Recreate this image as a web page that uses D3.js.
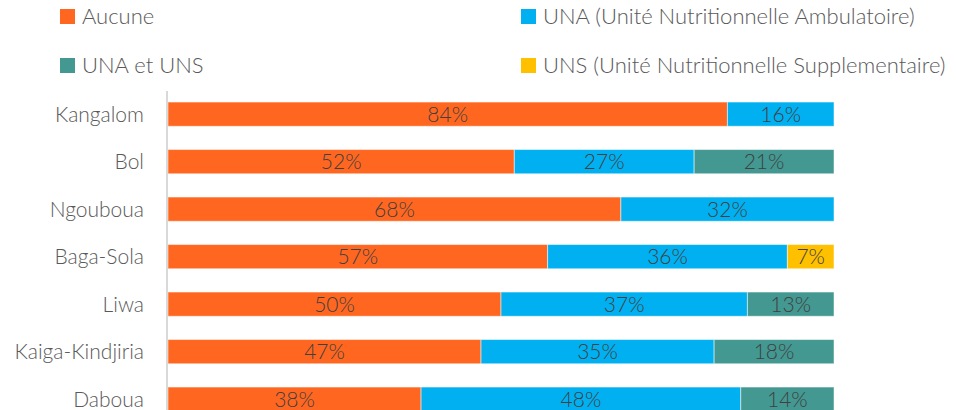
<!DOCTYPE html>
<html>
<head>
<meta charset="utf-8">
<script src="https://cdn.jsdelivr.net/npm/d3@7"></script>
<style>
  body { margin: 0; background: #fff; }
  svg text { font-family: Lato, "Open Sans", sans-serif; font-weight: 300; }
</style>
</head>
<body>
<svg id="chart"></svg>
<script>
// Chart data
const sites = ["Kangalom", "Bol", "Ngouboua", "Baga-Sola", "Liwa", "Kaiga-Kindjiria", "Daboua"];
const seriesNames = ["Aucune", "UNA (Unité Nutritionnelle Ambulatoire)", "UNA et UNS", "UNS (Unité Nutritionnelle Supplementaire)"];
const aucune = [84, 52, 68, 57, 50, 47, 38];
const una = [16, 27, 32, 36, 37, 35, 48];
const unaUns = [0, 21, 0, 0, 13, 18, 14];
const uns = [0, 0, 0, 7, 0, 0, 0];
const colors = ["#FF6720", "#00B0F0", "#439891", "#FFC000"];

// Size of chart svg
var width = 956;
var height = 410;

var svg = d3.select('#chart')
    .attr("width", width)
    .attr("height", height);

var rows = sites.map((s, i) => ({site: s, "0": aucune[i], "1": una[i], "2": unaUns[i], "3": uns[i]}));
var stack = d3.stack().keys(["0", "1", "2", "3"])(rows);

var x = d3.scaleLinear().domain([0, 100]).range([168, 834]);
var y = d3.scaleBand().domain(sites).range([90.4, 422.9])
    .paddingInner(0.49).paddingOuter(0.245);

// bars
var layers = svg.selectAll("g.layer").data(stack).enter().append("g")
    .attr("class", "layer")
    .attr("fill", (d, i) => colors[i]);

layers.selectAll("rect").data(d => d.filter(p => p[1] - p[0] > 0)).enter().append("rect")
    .attr("x", d => x(d[0]))
    .attr("y", d => y(d.data.site))
    .attr("width", d => x(d[1]) - x(d[0]))
    .attr("height", y.bandwidth())
    .attr("stroke", "rgba(255,255,255,0.5)")
    .attr("stroke-width", 1);

layers.selectAll("text").data(d => d.filter(p => p[1] - p[0] > 0)).enter().append("text")
    .attr("x", d => (x(d[0]) + x(d[1])) / 2)
    .attr("y", d => y(d.data.site) + y.bandwidth() / 2)
    .attr("dy", "0.36em")
    .attr("text-anchor", "middle")
    .attr("fill", "#404040")
    .style("font-size", "21px")
    .text(d => (d[1] - d[0]) + "%");

// category axis
var yAxis = svg.append("g")
    .attr("transform", "translate(167,0)")
    .call(d3.axisLeft(y).tickSize(0).tickPadding(23));
yAxis.select(".domain").remove();
yAxis.selectAll("text")
    .attr("fill", "#595959")
    .style("font-size", "21px")
    .attr("dy", "0.36em");

svg.append("line")
    .attr("x1", 167).attr("x2", 167)
    .attr("y1", 91).attr("y2", height)
    .attr("stroke", "#D9D9D9")
    .attr("stroke-width", 2);

// legend
var legendPos = [[60, 9], [521, 9], [60, 58], [521, 58]];
var legend = svg.selectAll("g.legend").data(seriesNames).enter().append("g")
    .attr("class", "legend")
    .attr("transform", (d, i) => "translate(" + legendPos[i][0] + "," + legendPos[i][1] + ")");
legend.append("rect")
    .attr("width", 15).attr("height", 15)
    .attr("fill", (d, i) => colors[i]);
legend.append("text")
    .attr("x", 22)
    .attr("y", 7.5)
    .attr("dy", "0.36em")
    .attr("fill", "#595959")
    .style("font-size", "22px")
    .text(d => d);
</script>
</body>
</html>
